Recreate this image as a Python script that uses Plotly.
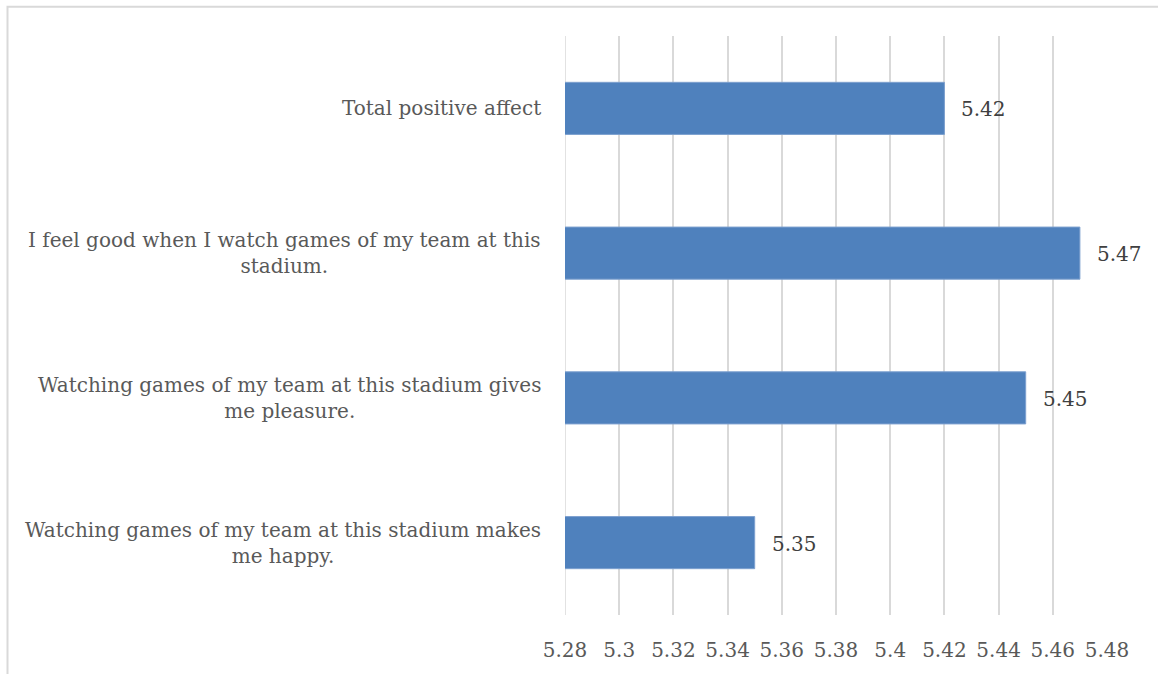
import plotly.graph_objects as go

# Survey items (bottom to top) and their mean scores
categories = [
    "Watching games of my team at this stadium makes<br>me happy.",
    "Watching games of my team at this stadium gives<br>me pleasure.",
    "I feel good when I watch games of my team at this<br>stadium.",
    "Total positive affect",
]
values = [5.35, 5.45, 5.47, 5.42]
tick_values = [5.28, 5.30, 5.32, 5.34, 5.36, 5.38, 5.40, 5.42, 5.44, 5.46, 5.48]
tick_labels = ["5.28", "5.3", "5.32", "5.34", "5.36", "5.38", "5.4", "5.42", "5.44", "5.46", "5.48"]

FONT = "DejaVu Serif"
W, H = 1158, 674
ML, MR, MT, MB = 565, 51, 36, 56
PW, PH = W - ML - MR, H - MT - MB
GRID = "#d9d9d9"

fig = go.Figure()
fig.add_trace(go.Bar(
    y=categories,
    x=values,
    orientation="h",
    width=0.36,
    marker=dict(color="#4f81bd", line=dict(color="#7da0cf", width=1)),
    hoverinfo="x+y",
))

annotations = []
# category labels, right-aligned block with centered lines
for cat in categories:
    annotations.append(dict(
        x=0, xref="paper", y=cat, yref="y",
        text=cat, showarrow=False,
        xanchor="right", yanchor="middle", align="center",
        xshift=-22,
        font=dict(family=FONT, size=20, color="#595959"),
    ))
# value labels just past each bar end
for cat, v in zip(categories, values):
    annotations.append(dict(
        x=v, xref="x", y=cat, yref="y",
        text=f"{v:.2f}", showarrow=False,
        xanchor="left", yanchor="middle",
        xshift=15, yshift=-1,
        font=dict(family=FONT, size=20, color="#404040"),
    ))

# chart-area border (top and left edges visible)
x0 = (7.5 - ML) / PW
y1 = 1 + (MT - 6.5) / PH
fig.add_shape(type="rect", xref="paper", yref="paper",
              x0=x0, x1=x0 + 1200 / PW, y0=y1 - 720 / PH, y1=y1,
              line=dict(color=GRID, width=2), layer="below")
# gridline at the axis minimum (plotly skips the edge gridline)
fig.add_shape(type="line", xref="x", yref="paper",
              x0=tick_values[0], x1=tick_values[0], y0=0, y1=1,
              line=dict(color=GRID, width=1.5), layer="below")

fig.update_layout(
    width=W, height=H,
    margin=dict(l=ML, r=MR, t=MT, b=MB),
    paper_bgcolor="white", plot_bgcolor="white",
    showlegend=False,
    annotations=annotations,
    font=dict(family=FONT, size=20, color="#595959"),
    xaxis=dict(
        range=[5.28, 5.48],
        tickvals=tick_values, ticktext=tick_labels,
        showgrid=True, gridcolor=GRID, gridwidth=1.5,
        zeroline=False, showline=False,
        ticks="outside", ticklen=17, tickcolor="rgba(0,0,0,0)",
        tickfont=dict(family=FONT, size=20, color="#595959"),
        fixedrange=True,
    ),
    yaxis=dict(
        categoryorder="array", categoryarray=categories,
        showticklabels=False, showgrid=False, zeroline=False,
        showline=False, fixedrange=True,
    ),
)

fig.write_html("out.html")
